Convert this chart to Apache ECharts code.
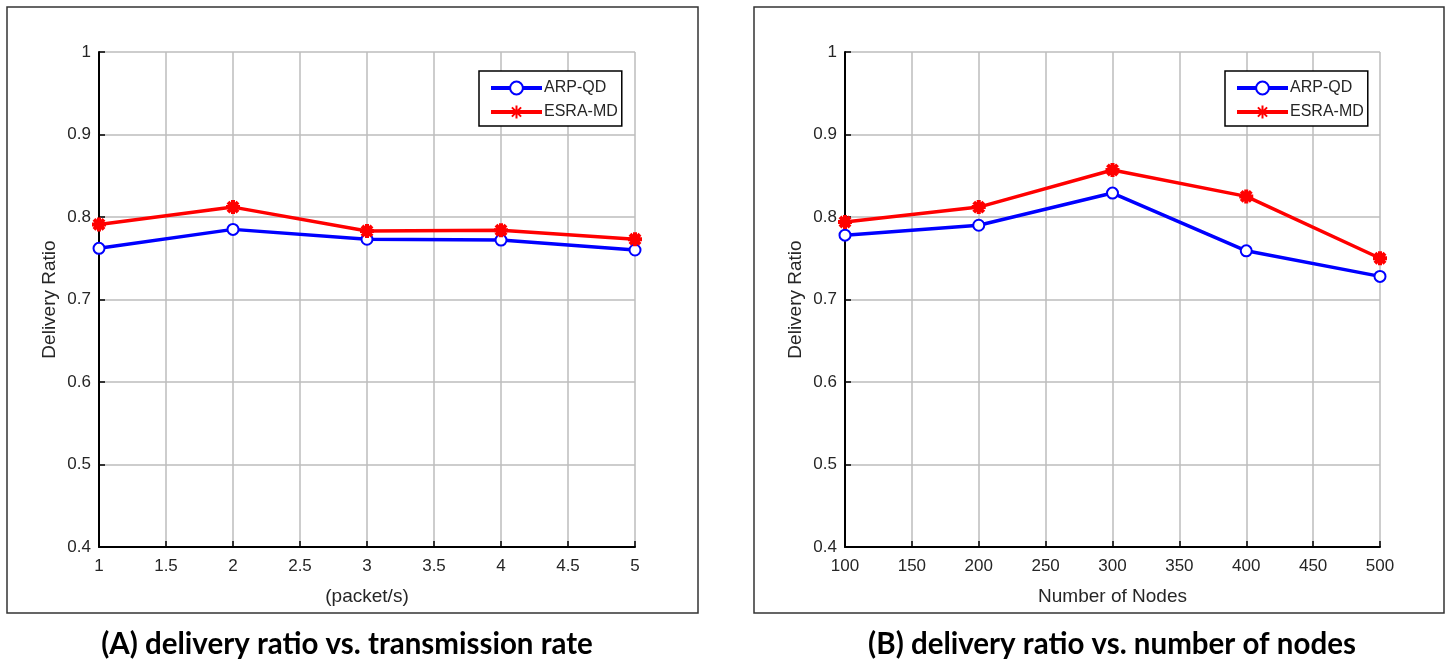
<!DOCTYPE html>
<html><head><meta charset="utf-8">
<script src="https://cdn.jsdelivr.net/npm/echarts@6/dist/echarts.min.js"></script>
<style>html,body{margin:0;padding:0;background:#fff}#c{width:1448px;height:661px}</style>
</head><body><div id="c"></div>
<script>
const seriesNames = ['ARP-QD', 'ESRA-MD'];
const rateX = [1, 2, 3, 4, 5];
const arpRate = [0.762, 0.785, 0.773, 0.772, 0.760];
const esraRate = [0.791, 0.812, 0.783, 0.784, 0.773];
const nodesX = [100, 200, 300, 400, 500];
const arpNodes = [0.778, 0.790, 0.829, 0.759, 0.728];
const esraNodes = [0.794, 0.812, 0.857, 0.825, 0.750];
const yTitle = 'Delivery Ratio';
const xTitleA = '(packet/s)';
const xTitleB = 'Number of Nodes';
const captionA = '(A) delivery ratio vs. transmission rate';
const captionB = '(B) delivery ratio vs. number of nodes';

const FONT = '"Liberation Sans", Arial, sans-serif';
const STAR = 'path://M0,-6L0,6M-6,0L6,0M-4.3,-4.3L4.3,4.3M-4.3,4.3L4.3,-4.3';

function pairs(xs, ys) { return xs.map((x, i) => [x, ys[i]]); }

function xAxis(idx, min, max, interval, name) {
  return {
    type: 'value', gridIndex: idx, min, max, interval,
    name, nameLocation: 'middle', nameGap: 40,
    nameTextStyle: { fontFamily: FONT, fontSize: 19, color: '#262626' },
    axisLine: { show: true, onZero: false, lineStyle: { color: '#000', width: 2 } },
    axisTick: { show: true, inside: true, length: 6, lineStyle: { color: '#000', width: 1.5 } },
    axisLabel: { fontFamily: FONT, fontSize: 17, color: '#262626', margin: 11 },
    splitLine: { show: true, lineStyle: { color: '#bdbdbd', width: 1.5 } }
  };
}
function yAxis(idx) {
  return {
    type: 'value', gridIndex: idx, min: 0.4, max: 1, interval: 0.1,
    name: yTitle, nameLocation: 'middle', nameGap: 40,
    nameTextStyle: { fontFamily: FONT, fontSize: 19, color: '#262626' },
    axisLine: { show: true, onZero: false, lineStyle: { color: '#000', width: 2 } },
    axisTick: { show: true, inside: true, length: 6, lineStyle: { color: '#000', width: 1.5 } },
    axisLabel: { fontFamily: FONT, fontSize: 17, color: '#262626', margin: 8,
      formatter: v => String(parseFloat(v.toFixed(2))) },
    splitLine: { show: true, lineStyle: { color: '#bdbdbd', width: 1.5 } }
  };
}
function arpSeries(idx, data) {
  return {
    name: seriesNames[0], type: 'line', xAxisIndex: idx, yAxisIndex: idx, data,
    symbol: 'emptyCircle', symbolSize: 11,
    lineStyle: { color: '#0000ff', width: 3.5 },
    itemStyle: { color: '#0000ff', borderColor: '#0000ff', borderWidth: 2.5 },
    emphasis: { disabled: true }, z: 2
  };
}
function esraSeries(idx, data) {
  return {
    name: seriesNames[1], type: 'line', xAxisIndex: idx, yAxisIndex: idx, data,
    symbol: STAR, symbolSize: 14,
    lineStyle: { color: '#ff0000', width: 3.5 },
    itemStyle: { color: '#ff0000', borderColor: '#ff0000', borderWidth: 4 },
    emphasis: { disabled: true }, z: 3
  };
}
function legend(idx, left) {
  return {
    id: 'lg' + idx, left, top: 71, orient: 'vertical',
    data: seriesNames,
    itemWidth: 51, itemHeight: 16, itemGap: 8,
    padding: [9, 4, 6, 10],
    borderColor: '#000', borderWidth: 1.5, backgroundColor: '#fff',
    lineStyle: { width: 4 },
    textStyle: { fontFamily: FONT, fontSize: 16, color: '#262626', padding: [0, 0, 0, -3] },
    selectedMode: false
  };
}

const chart = echarts.init(document.getElementById('c'), null, { renderer: 'canvas' });
const option = {
  animation: false,
  backgroundColor: '#fff',
  grid: [
    { left: 99, top: 52, width: 536, height: 495 },
    { left: 845, top: 52, width: 535, height: 495 }
  ],
  xAxis: [xAxis(0, 1, 5, 0.5, xTitleA), xAxis(1, 100, 500, 50, xTitleB)],
  yAxis: [yAxis(0), yAxis(1)],
  legend: [legend(0, 479), legend(1, 1225)],
  series: [
    arpSeries(0, pairs(rateX, arpRate)),
    esraSeries(0, pairs(rateX, esraRate)),
    arpSeries(1, pairs(nodesX, arpNodes)),
    esraSeries(1, pairs(nodesX, esraNodes))
  ],
  graphic: [
    { type: 'rect', shape: { x: 7, y: 7, width: 691, height: 606 }, style: { fill: 'none', stroke: '#333', lineWidth: 1.5 }, silent: true, z: -1 },
    { type: 'rect', shape: { x: 754, y: 7, width: 690, height: 606 }, style: { fill: 'none', stroke: '#333', lineWidth: 1.5 }, silent: true, z: -1 },
    { type: 'text', x: 347, y: 644, style: { text: captionA, fontFamily: 'Lato, "Open Sans", sans-serif', fontWeight: 'bold', fontSize: 29.5, fill: '#000', align: 'center', verticalAlign: 'middle' }, silent: true },
    { type: 'text', x: 1112, y: 644, style: { text: captionB, fontFamily: 'Lato, "Open Sans", sans-serif', fontWeight: 'bold', fontSize: 29.5, fill: '#000', align: 'center', verticalAlign: 'middle' }, silent: true }
  ]
};
chart.setOption(option);
</script></body></html>
